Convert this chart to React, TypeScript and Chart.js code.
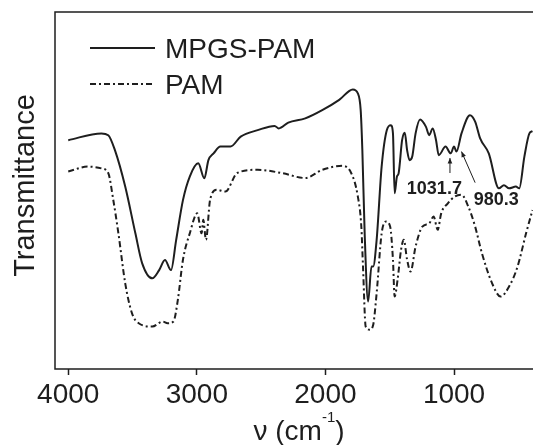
import { useEffect, useRef } from "react";
import { Chart, registerables } from "chart.js";

Chart.register(...registerables);

// ---- Data ----
const seriesNames = ["MPGS-PAM", "PAM"];

const mpgsWavenumber = [4000, 3742, 3689, 3637, 3557, 3478, 3425, 3346, 3293, 3248, 3201, 3161, 3108, 3055, 2989, 2942, 2910, 2870, 2817, 2738, 2659, 2527, 2395, 2363, 2289, 2157, 2025, 1893, 1787, 1748, 1726, 1713, 1695, 1668, 1642, 1629, 1602, 1563, 1523, 1491, 1475, 1462, 1444, 1431, 1404, 1383, 1365, 1346, 1325, 1299, 1264, 1219, 1193, 1166, 1140, 1119, 1066, 1026, 1000, 981, 942, 876, 836, 797, 730, 651, 612, 572, 519, 493, 453, 414, 390];
const mpgsTransmittance = [64.1, 66.0, 65.5, 61.3, 51.1, 38.0, 29.6, 25.4, 27.7, 30.5, 27.7, 36.1, 47.3, 53.9, 57.6, 53.4, 58.5, 60.4, 62.3, 62.3, 65.1, 66.9, 68.1, 67.4, 69.0, 70.2, 72.5, 75.4, 78.3, 77.2, 72.5, 61.3, 38.0, 18.9, 28.7, 28.7, 36.1, 56.7, 66.9, 68.3, 66.0, 49.2, 53.9, 54.8, 64.1, 66.2, 61.3, 58.5, 59.5, 66.0, 69.9, 67.9, 65.5, 67.4, 64.1, 59.9, 62.3, 60.4, 62.3, 60.9, 66.0, 71.1, 69.3, 64.6, 60.4, 50.6, 51.5, 50.6, 51.1, 50.6, 59.5, 66.0, 66.6];

const pamWavenumber = [4000, 3848, 3742, 3689, 3650, 3610, 3557, 3504, 3452, 3346, 3267, 3227, 3182, 3148, 3108, 3055, 2997, 2963, 2950, 2929, 2897, 2844, 2778, 2686, 2527, 2342, 2157, 2025, 1866, 1800, 1748, 1721, 1708, 1687, 1655, 1629, 1602, 1563, 1528, 1497, 1475, 1462, 1439, 1412, 1391, 1365, 1338, 1299, 1246, 1193, 1159, 1127, 1100, 1048, 995, 942, 889, 836, 783, 704, 638, 572, 506, 440, 390];
const pamTransmittance = [55.3, 56.7, 56.2, 54.9, 47.4, 38.0, 24.0, 15.6, 12.8, 11.9, 13.3, 12.8, 13.3, 19.3, 30.6, 38.0, 43.6, 38.0, 41.8, 36.2, 47.4, 50.2, 49.7, 54.9, 55.8, 54.9, 53.5, 55.8, 56.9, 54.9, 48.3, 39.9, 28.7, 11.9, 11.0, 12.3, 21.2, 38.0, 41.3, 39.9, 30.6, 20.3, 25.0, 33.4, 36.2, 30.6, 27.3, 34.3, 39.9, 40.8, 42.7, 39.0, 43.6, 46.4, 48.3, 48.8, 45.5, 39.9, 32.4, 24.0, 20.3, 23.1, 28.7, 38.0, 44.5];

const xTickValues = [4000, 3000, 2000, 1000];
const xRange = [386, 4103];
const yRange = [0, 100];

const annotationLabels = ["1031.7", "980.3"];
const annotationLabelX = [1153, 672];
const annotationLabelY = [50.3, 47.3];
const arrowFromX = [1031.7, 836];
const arrowFromY = [54.9, 52.2];
const arrowToX = [1031.7, 942];
const arrowToY = [59.1, 60.9];

const FONT = "'Liberation Sans', Arial, Helvetica, sans-serif";
const INK = "#1e1e1e";

function drawArrow(ctx: CanvasRenderingContext2D, x1: number, y1: number, x2: number, y2: number) {
  ctx.beginPath();
  ctx.moveTo(x1, y1);
  ctx.lineTo(x2, y2);
  ctx.stroke();
  const ang = Math.atan2(y2 - y1, x2 - x1);
  const len = 6;
  const spread = 0.4;
  ctx.beginPath();
  ctx.moveTo(x2, y2);
  ctx.lineTo(x2 - len * Math.cos(ang - spread), y2 - len * Math.sin(ang - spread));
  ctx.lineTo(x2 - len * Math.cos(ang + spread), y2 - len * Math.sin(ang + spread));
  ctx.closePath();
  ctx.fill();
}

const overlayPlugin = {
  id: "overlay",
  afterDraw(chart: any) {
    const { ctx, chartArea, scales } = chart;
    const xs = scales.x;
    const ys = scales.y;
    ctx.save();
    // frame (left, top, bottom)
    ctx.strokeStyle = INK;
    ctx.lineWidth = 1.5;
    ctx.setLineDash([]);
    ctx.beginPath();
    ctx.moveTo(chartArea.right + 2, chartArea.top);
    ctx.lineTo(chartArea.left, chartArea.top);
    ctx.lineTo(chartArea.left, chartArea.bottom);
    ctx.lineTo(chartArea.right + 2, chartArea.bottom);
    ctx.stroke();

    // legend
    const ds = chart.data.datasets;
    const legendX0 = chartArea.left + 35;
    const legendX1 = chartArea.left + 100;
    const legendRows = [chartArea.top + 36, chartArea.top + 72];
    ds.forEach((d: any, i: number) => {
      const y = legendRows[i];
      ctx.strokeStyle = d.borderColor;
      ctx.lineWidth = d.borderWidth;
      ctx.setLineDash(d.borderDash || []);
      ctx.beginPath();
      ctx.moveTo(legendX0, y);
      ctx.lineTo(legendX1, y);
      ctx.stroke();
      ctx.setLineDash([]);
      ctx.fillStyle = INK;
      ctx.font = `28px ${FONT}`;
      ctx.textAlign = "left";
      ctx.textBaseline = "alphabetic";
      ctx.fillText(d.label, legendX1 + 10, y + 9.5);
    });

    // annotations
    ctx.fillStyle = INK;
    ctx.strokeStyle = INK;
    ctx.lineWidth = 1;
    ctx.font = `bold 18px ${FONT}`;
    ctx.textAlign = "center";
    ctx.textBaseline = "middle";
    annotationLabels.forEach((t, i) => {
      ctx.fillText(t, xs.getPixelForValue(annotationLabelX[i]), ys.getPixelForValue(annotationLabelY[i]));
      drawArrow(
        ctx,
        xs.getPixelForValue(arrowFromX[i]),
        ys.getPixelForValue(arrowFromY[i]),
        xs.getPixelForValue(arrowToX[i]),
        ys.getPixelForValue(arrowToY[i])
      );
    });

    // y title
    ctx.save();
    ctx.translate(26, (chartArea.top + chartArea.bottom) / 2 - 5);
    ctx.rotate(-Math.PI / 2);
    ctx.font = `29px ${FONT}`;
    ctx.textAlign = "center";
    ctx.textBaseline = "middle";
    ctx.fillStyle = INK;
    ctx.fillText("Transmittance", 0, 0);
    ctx.restore();

    // x title: ν (cm^-1)
    const base = 440;
    const cx = 299;
    ctx.textBaseline = "alphabetic";
    ctx.textAlign = "left";
    ctx.font = `28px ${FONT}`;
    const p1 = "\u03bd (cm";
    const p3 = ")";
    const w1 = ctx.measureText(p1).width;
    const w3 = ctx.measureText(p3).width;
    ctx.font = `15px ${FONT}`;
    const p2 = "-1";
    const w2 = ctx.measureText(p2).width;
    const total = w1 + w2 + w3;
    let x = cx - total / 2;
    ctx.font = `28px ${FONT}`;
    ctx.fillText(p1, x, base);
    x += w1;
    ctx.font = `15px ${FONT}`;
    ctx.fillText(p2, x, base - 18);
    x += w2;
    ctx.font = `28px ${FONT}`;
    ctx.fillText(p3, x, base);
    ctx.restore();
  },
};

export default function App() {
  const canvasRef = useRef<HTMLCanvasElement | null>(null);

  useEffect(() => {
    const canvas = canvasRef.current;
    if (!canvas) return;
    const chart = new Chart(canvas, {
      type: "line",
      data: {
        datasets: [
          {
            label: seriesNames[0],
            data: mpgsWavenumber.map((w, i) => ({ x: w, y: mpgsTransmittance[i] })),
            borderColor: INK,
            borderWidth: 2,
            pointRadius: 0,
            cubicInterpolationMode: "monotone",
            fill: false,
          },
          {
            label: seriesNames[1],
            data: pamWavenumber.map((w, i) => ({ x: w, y: pamTransmittance[i] })),
            borderColor: INK,
            borderWidth: 2,
            borderDash: [6, 3, 2, 3],
            pointRadius: 0,
            cubicInterpolationMode: "monotone",
            fill: false,
          },
        ],
      },
      options: {
        animation: false,
        responsive: false,
        layout: { padding: { top: 12, left: 0, right: 0, bottom: 0 } },
        plugins: {
          legend: { display: false },
          tooltip: { enabled: false },
        },
        scales: {
          x: {
            type: "linear",
            reverse: true,
            min: xRange[0],
            max: xRange[1],
            afterBuildTicks: (scale: any) => {
              scale.ticks = xTickValues.map((v) => ({ value: v }));
            },
            afterFit: (scale: any) => {
              scale.height = 76;
            },
            ticks: {
              color: INK,
              font: { family: FONT, size: 28 },
              padding: 3,
              maxRotation: 0,
              autoSkip: false,
              callback: (v: any) => String(v),
            },
            grid: {
              display: true,
              drawOnChartArea: false,
              drawTicks: true,
              tickLength: 6,
              tickColor: INK,
              tickWidth: 1.5,
            },
            border: { display: false },
          },
          y: {
            min: yRange[0],
            max: yRange[1],
            afterFit: (scale: any) => {
              scale.width = 55;
            },
            ticks: { display: false },
            grid: { display: false, drawTicks: false },
            border: { display: false },
          },
        },
      },
      plugins: [overlayPlugin],
    });
    return () => chart.destroy();
  }, []);

  return (
    <div style={{ position: "absolute", left: 0, top: 0, width: 533, height: 445, background: "#fff" }}>
      <canvas ref={canvasRef} width={533} height={445} style={{ display: "block" }} />
    </div>
  );
}
